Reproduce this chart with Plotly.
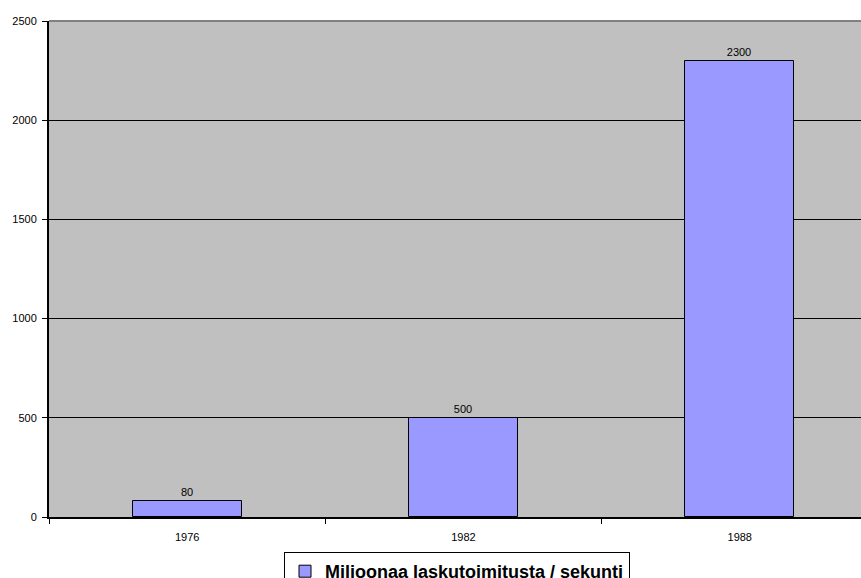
import plotly.graph_objects as go

categories = ["1976", "1982", "1988"]
values = [80, 500, 2300]
series_name = "Miljoonaa laskutoimitusta / sekunti"
y_ticks = [0, 500, 1000, 1500, 2000, 2500]

W, H = 861, 578
L, T, B = 49, 21, 61
plot_w = W - L
plot_h = H - T - B
cat_w = 276.3  # pixel width of one category slot (plot extends past canvas)
x_max = -0.5 + plot_w / cat_w

fig = go.Figure()
fig.add_trace(go.Bar(
    x=categories, y=values, name=series_name,
    width=0.395,
    marker=dict(color="#9999FF", line=dict(color="black", width=1)),
    text=[str(v) for v in values], textposition="outside",
    textfont=dict(family="Arial, Liberation Sans", size=11, color="black"),
    cliponaxis=False,
    showlegend=True,
))

fig.update_layout(
    width=W, height=H,
    margin=dict(l=L, r=0, t=T, b=B, autoexpand=False),
    paper_bgcolor="white",
    plot_bgcolor="#C0C0C0",
    font=dict(family="Arial, Liberation Sans", size=11, color="black"),
    bargap=0,
    showlegend=True,
    legend=dict(
        orientation="h",
        xref="container", x=457 / W, xanchor="center",
        yref="container", y=(H - 552) / H, yanchor="top",
        bordercolor="black", borderwidth=1,
        bgcolor="white",
        font=dict(family="Arial, Liberation Sans", size=18, color="black", weight="bold"),
        itemwidth=30,
    ),
    xaxis=dict(
        type="category", range=[-0.5, x_max],
        showgrid=False, showline=True, linecolor="black", linewidth=2,
        ticks="outside", ticklen=5, tickcolor="black", tickwidth=1,
        tickson="boundaries",
        tickfont=dict(size=11, color="black"),
        ticklabelstandoff=9,
        fixedrange=True,
    ),
    yaxis=dict(
        range=[0, 2500], tickvals=y_ticks, ticktext=[str(v) for v in y_ticks],
        showgrid=True, gridcolor="black", gridwidth=1,
        zeroline=False,
        showline=True, linecolor="black", linewidth=2,
        ticks="outside", ticklen=5, tickcolor="black", tickwidth=1,
        tickfont=dict(size=11, color="black"),
        ticklabelstandoff=3,
        fixedrange=True,
    ),
    shapes=[dict(type="line", xref="paper", yref="paper", x0=0, x1=1, y0=1, y1=1,
                 line=dict(color="#808080", width=2), layer="above")],
)

fig.write_html("out.html")
